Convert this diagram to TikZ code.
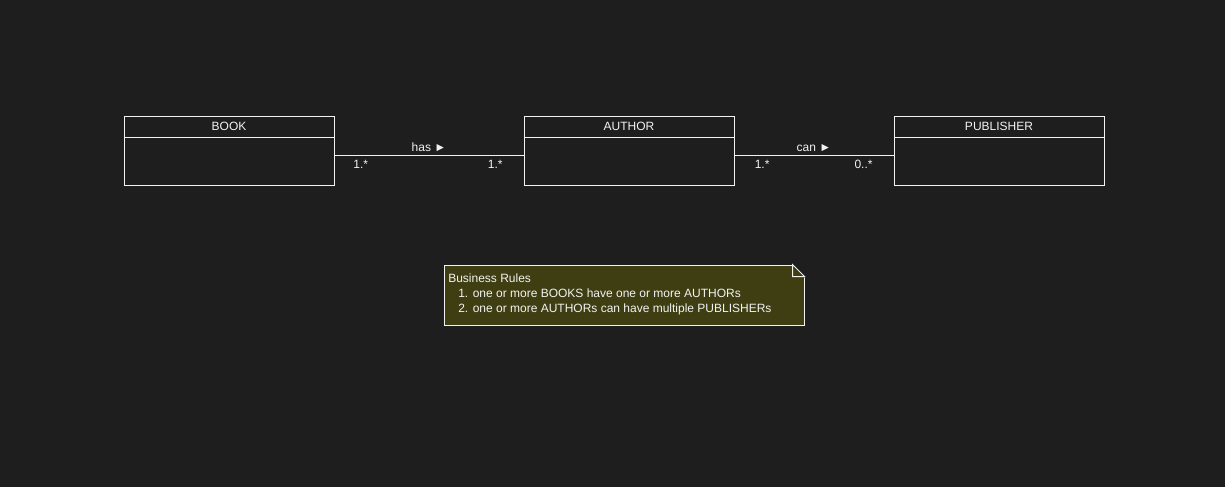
\documentclass[tikz,border=0pt]{standalone}
\usepackage{fontspec}
\setmainfont{Liberation Sans}
\usetikzlibrary{positioning}
\definecolor{canvas}{HTML}{1E1E1E}
\definecolor{notebg}{HTML}{3E3E12}
\definecolor{ink}{HTML}{F2F2F2}
\tikzstyle{umlline}=[draw=ink, line width=0.75pt]
\tikzstyle{classbox}=[rectangle, draw=ink, line width=0.75pt, minimum width=157.5pt, minimum height=51.75pt, inner sep=0pt, anchor=center]
\tikzstyle{classtitle}=[anchor=north, minimum height=15.75pt, inner sep=0pt, text=ink, font=\fontsize{9}{11}\selectfont]
\tikzstyle{annot}=[inner sep=0pt, text=ink, font=\fontsize{9}{11.25}\selectfont]
\tikzstyle{notebox}=[rectangle, draw=ink, fill=notebg, line width=0.75pt, minimum width=270pt, minimum height=45pt, inner sep=0pt]
\newcommand{\drawclass}[3]
{
  \node[classbox](#1) at #2{};
  \node[classtitle](#1title) at (#1.north){#3};
  \draw[umlline] (#1.west |- #1title.south) -- (#1.east |- #1title.south);
}

\begin{document}
\begin{tikzpicture}[x=0.75pt, y=-0.75pt]
	\fill[canvas] (0,0) rectangle (1225,487);

	\drawclass{book}{(229,150.5)}{BOOK}
	\drawclass{author}{(629,150.5)}{AUTHOR}
	\drawclass{publisher}{(999,150.5)}{PUBLISHER}

	\coordinate (hasstart) at ([yshift=-3.375pt]book.east);
	\coordinate (hasend) at ([yshift=-3.375pt]author.west);
	\coordinate (canstart) at ([yshift=-3.375pt]author.east);
	\coordinate (canend) at ([yshift=-3.375pt]publisher.west);

	\draw[umlline] (hasstart) -- (hasend) node[annot, midway, above=2pt]{has ►};
	\draw[umlline] (canstart) -- (canend) node[annot, midway, above=2pt]{can ►};

	\node[annot, below right=3.6pt and 14pt of hasstart](hasfrom){1.*};
	\node[annot, below left=3.6pt and 15.5pt of hasend](hasto){1.*};
	\node[annot, below right=3.6pt and 15pt of canstart](canfrom){1.*};
	\node[annot, below left=3.6pt and 15.5pt of canend](canto){0..*};

	% business rules note
	\node[notebox](rules) at (624,295){};
	\fill[canvas, draw=canvas, line width=1pt] ([xshift=-9pt]rules.north east) -- ([xshift=0.6pt, yshift=0.6pt]rules.north east) -- ([yshift=-9pt]rules.north east) -- cycle;
	\draw[umlline, line join=miter] ([xshift=-9pt]rules.north east) -- ([yshift=-9pt]rules.north east) -- ([xshift=-9pt, yshift=-9pt]rules.north east) -- cycle;
	\node[annot, anchor=north west, align=left](rulestext) at ([xshift=3.4pt, yshift=-6.6pt]rules.north west)
	  {Business Rules\\\hspace*{7.5pt}1. one or more BOOKS have one or more AUTHORs\\\hspace*{7.5pt}2. one or more AUTHORs can have multiple PUBLISHERs};
\end{tikzpicture}
\end{document}
